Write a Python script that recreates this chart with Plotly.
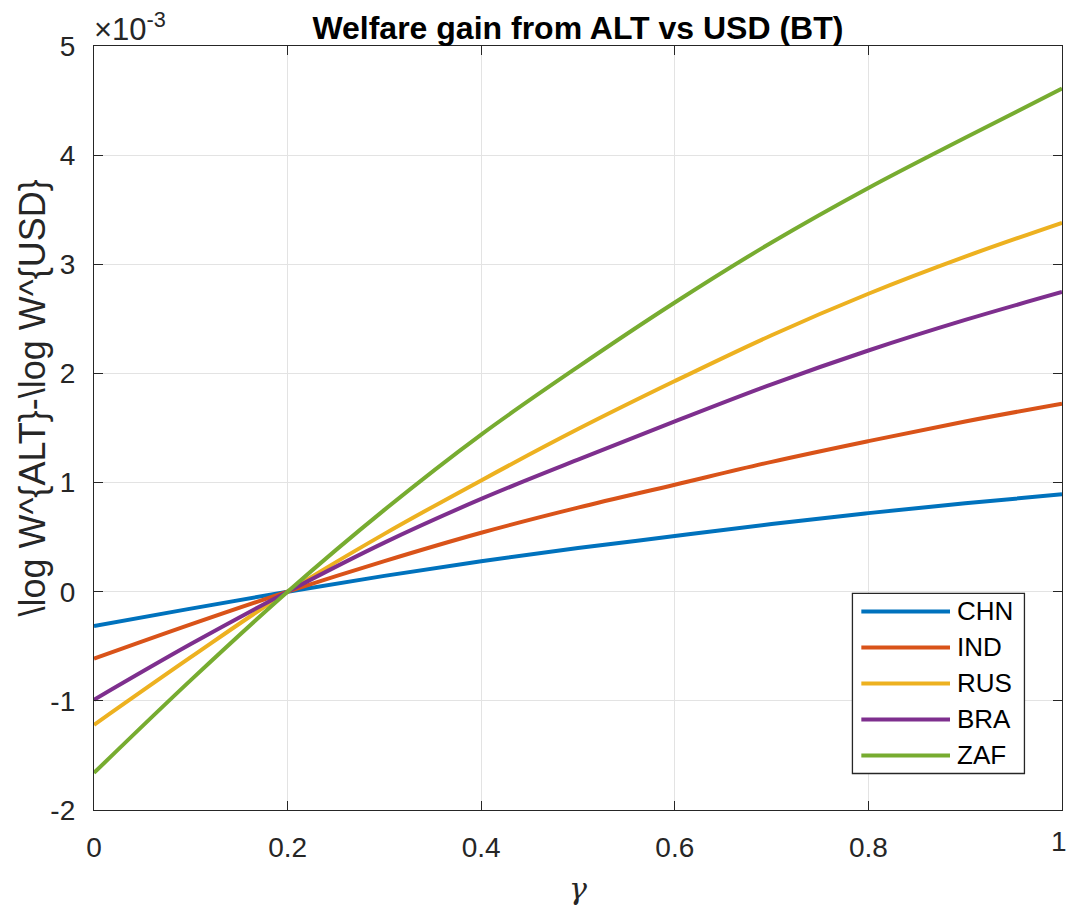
import plotly.graph_objects as go

# gamma grid and welfare differences (units of 1e-3)
gamma = [0.0, 0.1, 0.2, 0.3, 0.4, 0.5, 0.6, 0.7, 0.8, 0.9, 1.0]
chn = [-0.315, -0.155, 0.0, 0.145, 0.28, 0.40, 0.51, 0.62, 0.72, 0.81, 0.892]
ind = [-0.614, -0.30, 0.0, 0.28, 0.54, 0.77, 0.98, 1.19, 1.38, 1.56, 1.723]
rus = [-1.22, -0.60, 0.0, 0.53, 1.02, 1.49, 1.93, 2.35, 2.73, 3.07, 3.38]
bra = [-0.99, -0.48, 0.0, 0.45, 0.85, 1.21, 1.56, 1.90, 2.21, 2.49, 2.746]
zaf = [-1.66, -0.81, 0.0, 0.75, 1.44, 2.06, 2.65, 3.20, 3.70, 4.16, 4.61]

countries = ["CHN", "IND", "RUS", "BRA", "ZAF"]
series = [chn, ind, rus, bra, zaf]
colors = ["#0072BD", "#D95319", "#EDB120", "#7E2F8E", "#77AC30"]

y_ticks = [-2, -1, 0, 1, 2, 3, 4, 5]
x_ticks = [0, 0.2, 0.4, 0.6, 0.8, 1]
x_tick_text = ["0", "0.2", "0.4", "0.6", "0.8", "1"]

FONT = "Liberation Sans, Arial, Helvetica, sans-serif"
AX = "#262626"
TICK_SIZE = 28

fig = go.Figure()
for name, vals, col in zip(countries, series, colors):
    fig.add_trace(go.Scatter(
        x=gamma, y=vals, mode="lines", name=name,
        line=dict(color=col, width=4, shape="spline", smoothing=1.0),
        showlegend=False,
    ))

axis_common = dict(
    showline=True, linecolor=AX, linewidth=1.3, mirror="ticks",
    ticks="inside", ticklen=9, tickcolor=AX, tickwidth=1.3,
    showgrid=True, gridcolor="#e3e3e3", gridwidth=1,
    zeroline=False,
    tickfont=dict(family=FONT, size=TICK_SIZE, color=AX),
)

# the last x label sits at the page edge, so it is drawn as an annotation
# pinned to the right border instead of an overflowing tick label
fig.update_xaxes(
    range=[0, 1], tickvals=x_ticks, ticktext=x_tick_text[:-1] + [""],
    ticklabelstandoff=12,
    title=dict(text="<i>γ</i>", font=dict(family="DejaVu Serif, serif", size=30, color=AX), standoff=16),
    **axis_common,
)
fig.add_annotation(
    x=x_ticks[-1], y=0, xref="x", yref="paper", xanchor="right", yanchor="top",
    xshift=7, yshift=-14, showarrow=False,
    text=x_tick_text[-1], font=dict(family=FONT, size=TICK_SIZE, color=AX),
)

fig.update_yaxes(
    range=[-2, 5], tickvals=y_ticks, ticktext=[str(v) for v in y_ticks],
    ticklabelstandoff=12,
    **axis_common,
)

# y-axis label, placed slightly above the axis centre
fig.add_annotation(
    x=-0.064, y=0.5386, xref="paper", yref="paper",
    xanchor="center", yanchor="middle", textangle=-90, showarrow=False,
    text="\\log W^{ALT}-\\log W^{USD}", font=dict(family=FONT, size=36, color=AX),
)

# exponent marker above the y axis
fig.add_annotation(
    x=0, y=1, xref="paper", yref="paper", xanchor="left", yanchor="bottom",
    xshift=-2, yshift=-3, showarrow=False,
    text="×10<sup>-3</sup>", font=dict(family=FONT, size=31, color=AX),
)

# legend box with long line samples
lx0, lx1 = 0.7835, 0.9612   # paper x of box edges
ly_top, ly_bot = 0.2835, 0.0478
fig.add_shape(type="rect", xref="paper", yref="paper",
              x0=lx0, x1=lx1, y0=ly_bot, y1=ly_top,
              line=dict(color=AX, width=1.3), fillcolor="white", layer="above")
row_h = (ly_top - ly_bot) / len(countries)
for i, (name, col) in enumerate(zip(countries, colors)):
    yc = ly_top - row_h * (i + 0.5)
    fig.add_shape(type="line", xref="paper", yref="paper",
                  x0=0.7927, x1=0.8843, y0=yc, y1=yc,
                  line=dict(color=col, width=4), layer="above")
    fig.add_annotation(x=0.8895, y=yc, xref="paper", yref="paper",
                       xanchor="left", yanchor="middle", showarrow=False,
                       text=name, font=dict(family=FONT, size=26, color="black"))

fig.update_layout(
    width=1069, height=908,
    margin=dict(l=94, r=7, t=46, b=98),
    paper_bgcolor="white", plot_bgcolor="white",
    title=dict(text="<b>Welfare gain from ALT vs USD (BT)</b>",
               x=0.5406, xanchor="center", y=0.969, yanchor="middle",
               font=dict(family=FONT, size=32, color="black")),
    showlegend=False,
)

fig.write_html("out.html")
